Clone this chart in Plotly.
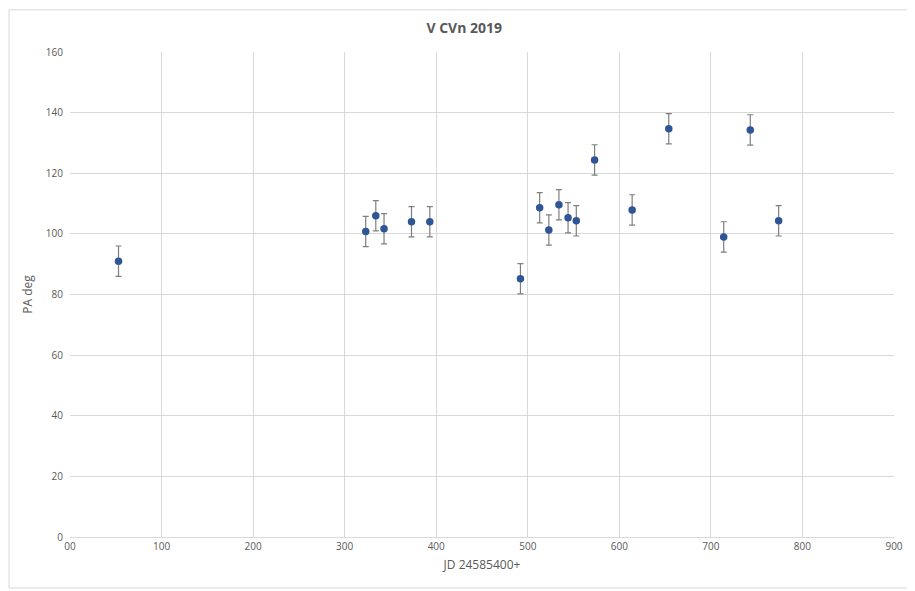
import plotly.graph_objects as go

jd = [53, 323, 334, 343, 373, 393, 492, 513, 523, 534, 544, 553, 573, 614, 654, 714, 743, 774]
pa = [91, 100.8, 106, 101.7, 104, 104, 85.2, 108.6, 101.3, 109.6, 105.3, 104.3, 124.4, 107.9, 134.7, 99, 134.3, 104.3]
err = [5] * len(jd)

x_tickvals = [0, 100, 200, 300, 400, 500, 600, 700, 800, 900]
x_ticktext = ["00", "100", "200", "300", "400", "500", "600", "700", "800", "900"]
y_tickvals = [0, 20, 40, 60, 80, 100, 120, 140, 160]

font_family = "Open Sans, Liberation Sans, sans-serif"
txt = "#595959"
grid = "#d9d9d9"

fig = go.Figure()
fig.add_trace(go.Scatter(
    x=jd, y=pa, mode="markers",
    marker=dict(size=7.5, color="#2f5597"),
    error_y=dict(type="data", array=err, visible=True, color="#7f7f7f", thickness=1.2, width=3),
    showlegend=False,
))

# page has an 8px body margin, so the figure is shrunk by 8px to fit the window
fig.update_layout(
    width=907, height=583,
    margin=dict(l=62, r=21, t=44, b=54),
    paper_bgcolor="white", plot_bgcolor="white",
    title=dict(text="<b>V CVn 2019</b>", x=0.503, xanchor="center", y=0.965, yanchor="middle",
               font=dict(family=font_family, size=14, color=txt)),
    font=dict(family=font_family, size=10, color=txt),
    xaxis=dict(range=[0, 900], tickvals=x_tickvals, ticktext=x_ticktext,
               showgrid=True, gridcolor=grid, gridwidth=1, zeroline=False,
               showline=True, linecolor=grid, ticks="", ticklen=0,
               title=dict(text="JD 24585400+", font=dict(size=12, color=txt), standoff=8),
               tickfont=dict(size=10, color=txt)),
    yaxis=dict(range=[0, 160], tickvals=y_tickvals,
               showgrid=True, gridcolor=grid, gridwidth=1, zeroline=False,
               showline=False, ticks="", ticklabelstandoff=6,
               title=dict(text="PA deg", font=dict(size=12, color=txt), standoff=10),
               tickfont=dict(size=10, color=txt)),
    shapes=[dict(type="rect", xref="paper", yref="paper",
                 x0=-0.074, x1=1.019, y0=-0.105, y1=1.087,
                 line=dict(color="#d9d9d9", width=1), fillcolor="rgba(0,0,0,0)", layer="below")],
)

fig.write_html("out.html")
